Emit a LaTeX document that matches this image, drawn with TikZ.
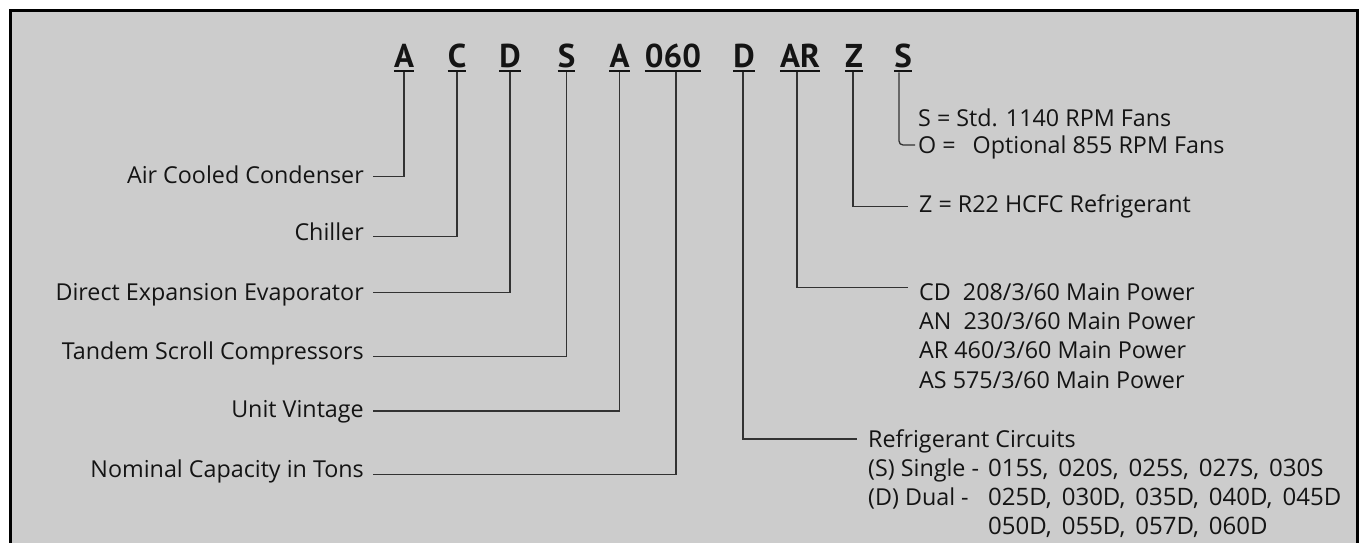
\documentclass[tikz,border=0pt]{standalone}
\usepackage{fontspec}
\setmainfont{Open Sans}
\newfontfamily\codefont{PT Sans}
\definecolor{panel}{RGB}{204,204,204}
\definecolor{ink}{RGB}{20,20,20}
\definecolor{wire}{RGB}{50,50,50}
\newcommand{\labfont}{\fontsize{23.3}{29}\selectfont}
\newcommand{\numfont}{\fontsize{24}{29}\selectfont}
\newcommand{\nsep}{,\hspace{10pt}}
\tikzset{
  code/.style={inner sep=0pt, anchor=base, text=ink, font=\codefont\fontsize{33}{40}\selectfont\bfseries},
  uline/.style={draw=ink, line width=2.6pt},
  conn/.style={draw=wire, line width=1.3pt},
  llab/.style={anchor=base east, inner xsep=9pt, inner ysep=0pt, text=ink, font=\labfont},
  rlab/.style={anchor=base west, inner xsep=11pt, inner ysep=0pt, text=ink, font=\labfont},
  plain/.style={anchor=base west, inner sep=0pt, text=ink, font=\labfont},
  nums/.style={anchor=base west, inner sep=0pt, text=ink, font=\numfont}
}
\begin{document}
\begin{tikzpicture}[x=1pt,y=-1pt]
\useasboundingbox (0,0) rectangle (1364,542);
\clip (0,0) rectangle (1364,542);
% panel
\fill[panel] (10.7,10.7) rectangle (1357.7,560);
\draw[black, line width=3pt] (10.7,560) -- (10.7,10.7) -- (1357.7,10.7) -- (1357.7,560);

% code letters
\node[code] (c1) at (404,67.5) {A};
\node[code] (c2) at (457,67.5) {C};
\node[code] (c3) at (510,67.5) {D};
\node[code] (c4) at (566.5,67.5) {S};
\node[code] (c5) at (619.5,67.5) {A};
\node[code] (c6) at (673,67.5) {060};
\node[code] (c7) at (744,67.5) {D};
\node[code] (c8) at (800,67.5) {AR};
\node[code] (c9) at (854,67.5) {Z};
\node[code] (c10) at (903,67.5) {S};
\foreach \c in {c1,c2,c3,c4,c5,c6,c7,c8,c9,c10}
  \draw[uline] ([yshift=-3.5pt]\c.base west) -- ([yshift=-3.5pt]\c.base east);

% left labels
\node[llab] (l1) at (373,183) {Air Cooled Condenser};
\node[llab] (l2) at (373,240.7) {Chiller};
\node[llab] (l3) at (373,300) {Direct Expansion Evaporator};
\node[llab] (l4) at (373,359.5) {Tandem Scroll Compressors};
\node[llab] (l5) at (373,417.3) {Unit Vintage};
\node[llab] (l6) at (373,477.5) {Nominal Capacity in Tons};

\draw[conn] ([yshift=-4.8pt]c1.base) |- ([yshift=6.5pt]l1.base east);
\draw[conn] ([yshift=-4.8pt]c2.base) |- ([yshift=4pt]l2.base east);
\draw[conn] ([yshift=-4.8pt]c3.base) |- ([yshift=7.3pt]l3.base east);
\draw[conn] ([yshift=-4.8pt]c4.base) |- ([yshift=2.7pt]l4.base east);
\draw[conn] ([yshift=-4.8pt]c5.base) |- ([yshift=6.3pt]l5.base east);
\draw[conn] ([xshift=3pt,yshift=-4.8pt]c6.base) |- ([yshift=3pt]l6.base east);

% right labels
\node[plain] (rS) at (918,126) {S = Std. 1140 RPM Fans};
\node[anchor=base west, inner xsep=3pt, inner ysep=0pt, text=ink, font=\labfont] (rO) at (915,153) {O =\hspace{17pt}Optional 855 RPM Fans};
\draw[conn, rounded corners=4pt] ([xshift=-4pt,yshift=-4.8pt]c10.base) |- ([yshift=8pt]rO.base west);

\node[rlab] (rZ) at (908,212) {Z = R22 HCFC Refrigerant};
\draw[conn] ([xshift=-1pt,yshift=-4.8pt]c9.base) |- ([yshift=5.3pt]rZ.base west);

\node[rlab] (rCD) at (908,300) {CD\ \ 208/3/60 Main Power};
\node[plain] (rAN) at (919,329) {AN\ \ 230/3/60 Main Power};
\node[plain] (rAR) at (919,358.5) {AR 460/3/60 Main Power};
\node[plain] (rAS) at (919,388) {AS 575/3/60 Main Power};
\draw[conn] ([xshift=-3pt,yshift=-4.8pt]c8.base) |- ([yshift=12.7pt]rCD.base west);

\node[rlab] (rRC) at (857,447) {Refrigerant Circuits};
\node[plain] (rS1) at (868,476) {(S) Single -};
\node[nums] (rS2) at (988,476) {015S\nsep 020S\nsep 025S\nsep 027S\nsep 030S};
\node[plain] (rD1) at (868,505) {(D) Dual -};
\node[nums] (rD2) at (988,505) {025D\nsep 030D\nsep 035D\nsep 040D\nsep 045D};
\node[nums] (rD3) at (988,534) {050D\nsep 055D\nsep 057D\nsep 060D};
\draw[conn] ([xshift=-1pt,yshift=-4.8pt]c7.base) |- ([yshift=8pt]rRC.base west);
\end{tikzpicture}
\end{document}
